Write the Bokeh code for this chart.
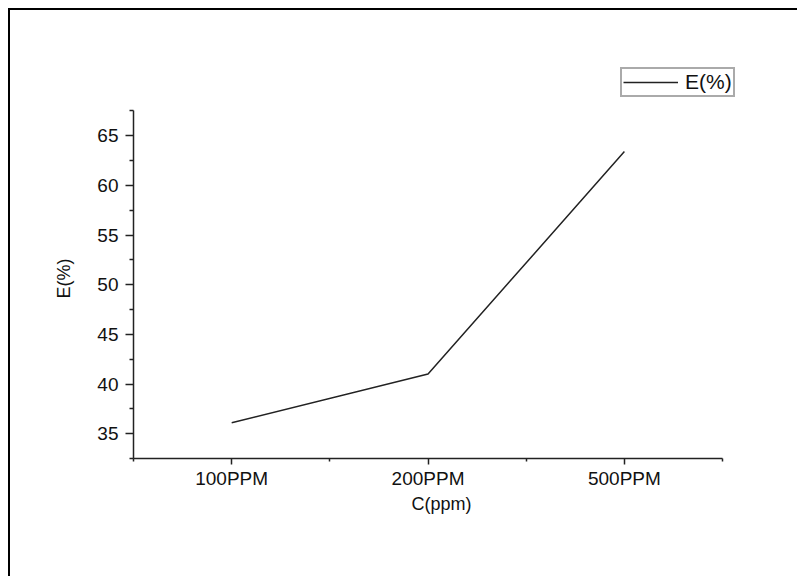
from bokeh.plotting import figure
from bokeh.models import FixedTicker, Legend, LegendItem, Range1d, Title
from bokeh.embed import file_html
from bokeh.resources import INLINE

categories = ["100PPM", "200PPM", "500PPM"]
positions = [0, 1, 2]
e_values = [36.1, 41.0, 63.4]
y_ticks = [35, 40, 45, 50, 55, 60, 65]
y_minor = [32.5, 37.5, 42.5, 47.5, 52.5, 57.5, 62.5, 67.5]
x_minor = [-0.5, 0.5, 1.5, 2.5]

FONT = "Liberation Sans"

# frame is larger than the drawn axes (room for the legend); axes are bounded
p = figure(width=789, height=568, output_backend="svg", toolbar_location=None,
           x_range=Range1d(-0.5, 2.744), y_range=Range1d(32.5, 72.57),
           min_border_left=123, min_border_right=29, min_border_top=50, min_border_bottom=120)
p.margin = (8, 0, 0, 8)
p.styles = {"border-top": "2px solid black", "border-left": "2px solid black"}
p.xgrid.visible = False
p.ygrid.visible = False
p.outline_line_color = None
p.background_fill_color = "white"
p.border_fill_color = "white"

r = p.line(positions, e_values, line_color="#222222", line_width=1.5)

p.xaxis.ticker = FixedTicker(ticks=positions, minor_ticks=x_minor)
p.xaxis.major_label_overrides = {pos: c for pos, c in zip(positions, categories)}
p.xaxis.bounds = (-0.5, 2.5)
p.yaxis.ticker = FixedTicker(ticks=y_ticks, minor_ticks=y_minor)
p.yaxis.bounds = (32.5, 67.5)

for ax in (p.xaxis[0], p.yaxis[0]):
    ax.axis_line_color = "#222222"
    ax.axis_line_width = 1.5
    ax.major_tick_line_color = "#222222"
    ax.minor_tick_line_color = "#222222"
    ax.major_tick_line_width = 1.5
    ax.minor_tick_line_width = 1.5
    ax.major_tick_in = 0
    ax.minor_tick_in = 0
    ax.major_label_text_font = FONT
    ax.major_label_text_font_size = "19px"
    ax.major_label_text_color = "#111111"

p.xaxis.major_tick_out = 6
p.xaxis.minor_tick_out = 3
p.yaxis.major_tick_out = 8
p.yaxis.minor_tick_out = 4
p.xaxis.major_label_standoff = 3
p.yaxis.major_label_standoff = 7

ylab = Title(text="E(%)", align="left", offset=160, standoff=42,
             text_font=FONT, text_font_size="18px", text_font_style="normal",
             text_color="#111111")
p.add_layout(ylab, "left")
xlab = Title(text="C(ppm)", align="left", offset=278, standoff=0,
             text_font=FONT, text_font_size="18px", text_font_style="normal",
             text_color="#111111")
p.add_layout(xlab, "below")

legend = Legend(items=[LegendItem(label="E(%)", renderers=[r])],
                location=(487, 361), orientation="vertical")
legend.label_text_font = FONT
legend.label_text_font_size = "21px"
legend.label_text_color = "#111111"
legend.border_line_color = "#555555"
legend.border_line_width = 2
legend.padding = 1
legend.margin = 0
legend.glyph_width = 55
legend.glyph_height = 18
legend.label_standoff = 7
legend.label_height = 18
legend.background_fill_alpha = 1
p.add_layout(legend, "center")

open("out.html", "w").write(file_html(p, INLINE))
